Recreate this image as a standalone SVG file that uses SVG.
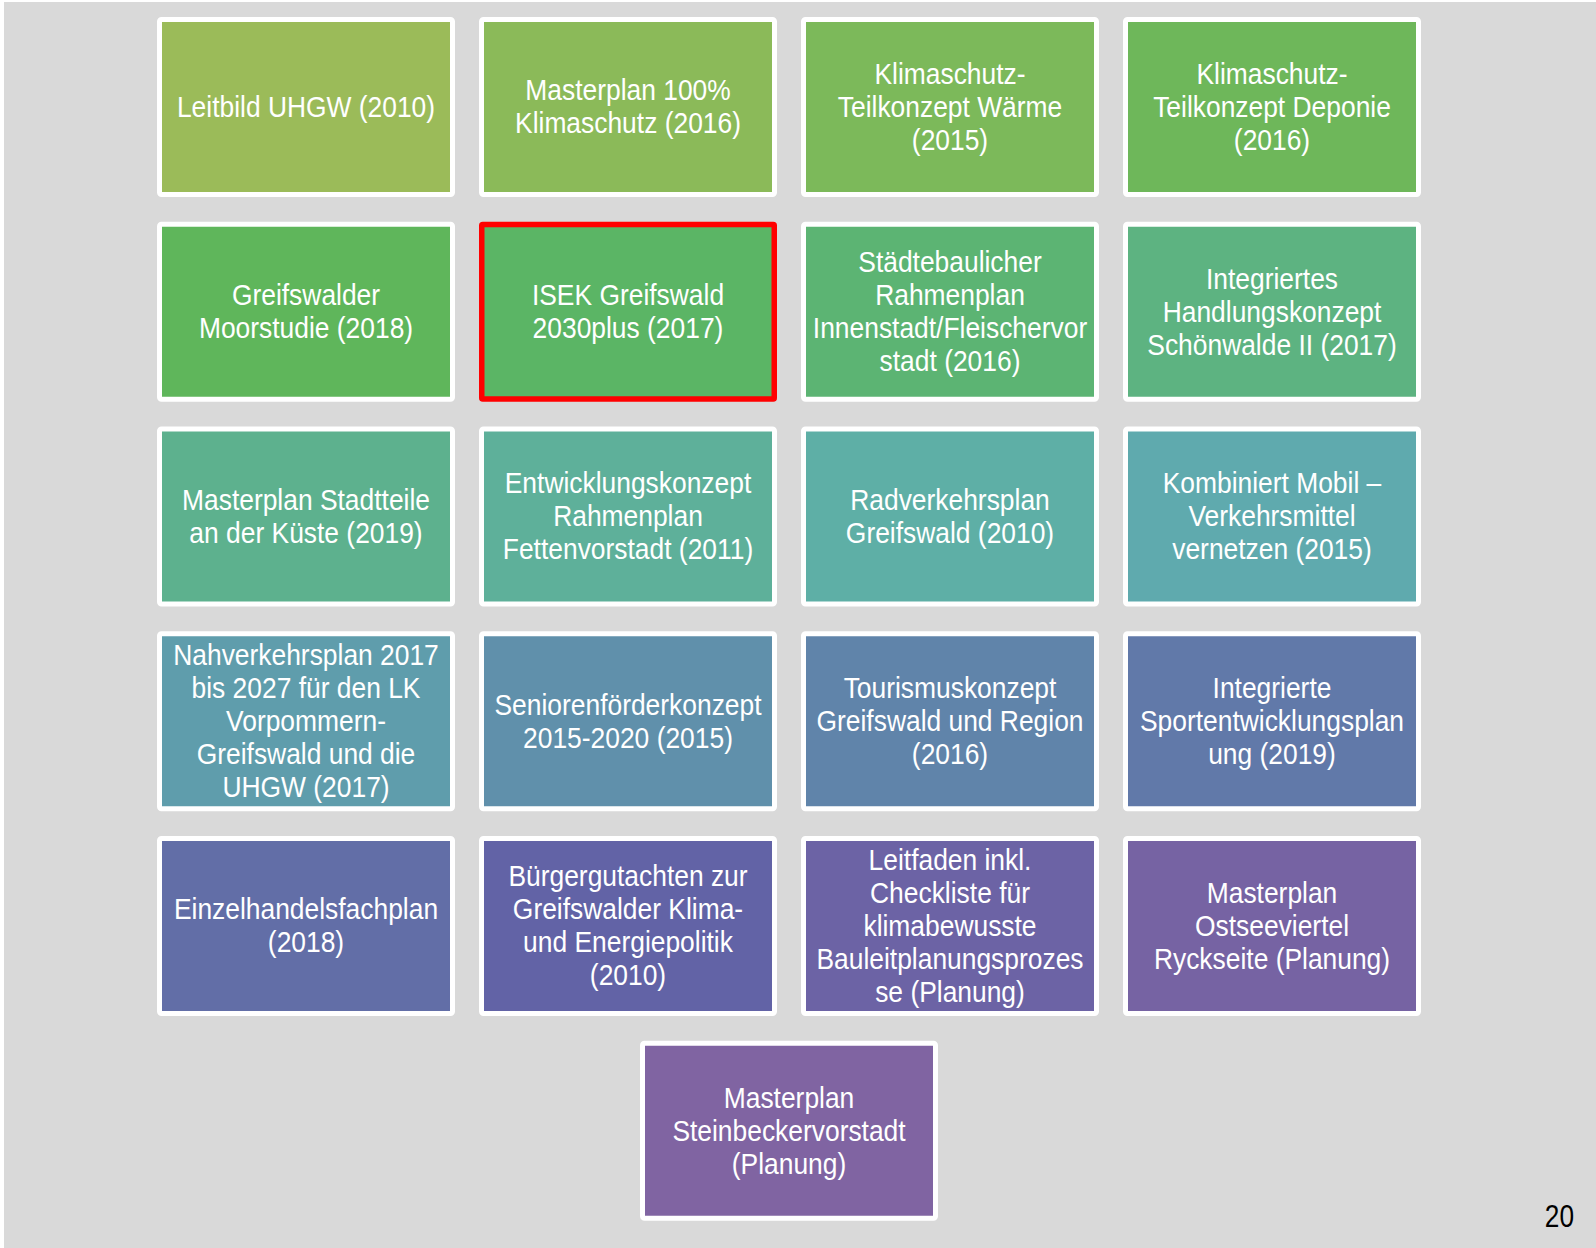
<svg xmlns="http://www.w3.org/2000/svg" width="1596" height="1248" viewBox="0 0 1596 1248">
<style>
.box{stroke:#ffffff;stroke-width:5}
.sel{stroke:#ff0000;stroke-width:5.5}
.t{font-family:"Liberation Sans",Arial,sans-serif;font-size:30px;fill:#ffffff;text-anchor:middle}
.pg{font-family:"Liberation Sans",Arial,sans-serif;font-size:32px;fill:#000000;text-anchor:end}
</style>
<rect x="0" y="0" width="1596" height="1248" fill="#ffffff"/>
<rect x="4" y="2" width="1592" height="1246" fill="#d9d9d9"/>
<g id="nodes">
<g id="n0"><rect class="box" x="159.5" y="19.5" width="293" height="175" rx="2" fill="#9BBB59"/>
<g transform="translate(306 0) scale(0.88 1)"><text class="t"><tspan x="0" y="117">Leitbild UHGW (2010)</tspan></text></g></g>
<g id="n1"><rect class="box" x="481.5" y="19.5" width="293" height="175" rx="2" fill="#8BBA59"/>
<g transform="translate(628 0) scale(0.88 1)"><text class="t"><tspan x="0" y="100.5">Masterplan 100%</tspan><tspan x="0" y="133.5">Klimaschutz (2016)</tspan></text></g></g>
<g id="n2"><rect class="box" x="803.5" y="19.5" width="293" height="175" rx="2" fill="#7CB95A"/>
<g transform="translate(950 0) scale(0.88 1)"><text class="t"><tspan x="0" y="84">Klimaschutz-</tspan><tspan x="0" y="117">Teilkonzept Wärme</tspan><tspan x="0" y="150">(2015)</tspan></text></g></g>
<g id="n3"><rect class="box" x="1125.5" y="19.5" width="293" height="175" rx="2" fill="#6EB75A"/>
<g transform="translate(1272 0) scale(0.88 1)"><text class="t"><tspan x="0" y="84">Klimaschutz-</tspan><tspan x="0" y="117">Teilkonzept Deponie</tspan><tspan x="0" y="150">(2016)</tspan></text></g></g>

<g id="n4"><rect class="box" x="159.5" y="224.25" width="293" height="175" rx="2" fill="#5FB65B"/>
<g transform="translate(306 0) scale(0.88 1)"><text class="t"><tspan x="0" y="305.25">Greifswalder</tspan><tspan x="0" y="338.25">Moorstudie (2018)</tspan></text></g></g>
<g id="n5"><rect class="sel" x="481.75" y="224.5" width="292.5" height="174.5" rx="1" fill="#5BB565"/>
<g transform="translate(628 0) scale(0.88 1)"><text class="t"><tspan x="0" y="305.25">ISEK Greifswald</tspan><tspan x="0" y="338.25">2030plus (2017)</tspan></text></g></g>
<g id="n6"><rect class="box" x="803.5" y="224.25" width="293" height="175" rx="2" fill="#5CB473"/>
<g transform="translate(950 0) scale(0.88 1)"><text class="t"><tspan x="0" y="272.25">Städtebaulicher</tspan><tspan x="0" y="305.25">Rahmenplan</tspan><tspan x="0" y="338.25">Innenstadt/Fleischervor</tspan><tspan x="0" y="371.25">stadt (2016)</tspan></text></g></g>
<g id="n7"><rect class="box" x="1125.5" y="224.25" width="293" height="175" rx="2" fill="#5DB381"/>
<g transform="translate(1272 0) scale(0.88 1)"><text class="t"><tspan x="0" y="288.75">Integriertes</tspan><tspan x="0" y="321.75">Handlungskonzept</tspan><tspan x="0" y="354.75">Schönwalde II (2017)</tspan></text></g></g>

<g id="n8"><rect class="box" x="159.5" y="429" width="293" height="175" rx="2" fill="#5DB18E"/>
<g transform="translate(306 0) scale(0.88 1)"><text class="t"><tspan x="0" y="510">Masterplan Stadtteile</tspan><tspan x="0" y="543">an der Küste (2019)</tspan></text></g></g>
<g id="n9"><rect class="box" x="481.5" y="429" width="293" height="175" rx="2" fill="#5EB09A"/>
<g transform="translate(628 0) scale(0.88 1)"><text class="t"><tspan x="0" y="493.5">Entwicklungskonzept</tspan><tspan x="0" y="526.5">Rahmenplan</tspan><tspan x="0" y="559.5">Fettenvorstadt (2011)</tspan></text></g></g>
<g id="n10"><rect class="box" x="803.5" y="429" width="293" height="175" rx="2" fill="#5EAFA6"/>
<g transform="translate(950 0) scale(0.88 1)"><text class="t"><tspan x="0" y="510">Radverkehrsplan</tspan><tspan x="0" y="543">Greifswald (2010)</tspan></text></g></g>
<g id="n11"><rect class="box" x="1125.5" y="429" width="293" height="175" rx="2" fill="#5FAAAE"/>
<g transform="translate(1272 0) scale(0.88 1)"><text class="t"><tspan x="0" y="493.5">Kombiniert Mobil –</tspan><tspan x="0" y="526.5">Verkehrsmittel</tspan><tspan x="0" y="559.5">vernetzen (2015)</tspan></text></g></g>

<g id="n12"><rect class="box" x="159.5" y="633.75" width="293" height="175" rx="2" fill="#5F9DAC"/>
<g transform="translate(306 0) scale(0.88 1)"><text class="t"><tspan x="0" y="665.25">Nahverkehrsplan 2017</tspan><tspan x="0" y="698.25">bis 2027 für den LK</tspan><tspan x="0" y="731.25">Vorpommern-</tspan><tspan x="0" y="764.25">Greifswald und die</tspan><tspan x="0" y="797.25">UHGW (2017)</tspan></text></g></g>
<g id="n13"><rect class="box" x="481.5" y="633.75" width="293" height="175" rx="2" fill="#6090AB"/>
<g transform="translate(628 0) scale(0.88 1)"><text class="t"><tspan x="0" y="714.75">Seniorenförderkonzept</tspan><tspan x="0" y="747.75">2015-2020 (2015)</tspan></text></g></g>
<g id="n14"><rect class="box" x="803.5" y="633.75" width="293" height="175" rx="2" fill="#6084AA"/>
<g transform="translate(950 0) scale(0.88 1)"><text class="t"><tspan x="0" y="698.25">Tourismuskonzept</tspan><tspan x="0" y="731.25">Greifswald und Region</tspan><tspan x="0" y="764.25">(2016)</tspan></text></g></g>
<g id="n15"><rect class="box" x="1125.5" y="633.75" width="293" height="175" rx="2" fill="#6179A9"/>
<g transform="translate(1272 0) scale(0.88 1)"><text class="t"><tspan x="0" y="698.25">Integrierte</tspan><tspan x="0" y="731.25">Sportentwicklungsplan</tspan><tspan x="0" y="764.25">ung (2019)</tspan></text></g></g>

<g id="n16"><rect class="box" x="159.5" y="838.5" width="293" height="175" rx="2" fill="#626EA7"/>
<g transform="translate(306 0) scale(0.88 1)"><text class="t"><tspan x="0" y="919.5">Einzelhandelsfachplan</tspan><tspan x="0" y="952.5">(2018)</tspan></text></g></g>
<g id="n17"><rect class="box" x="481.5" y="838.5" width="293" height="175" rx="2" fill="#6263A6"/>
<g transform="translate(628 0) scale(0.88 1)"><text class="t"><tspan x="0" y="886.5">Bürgergutachten zur</tspan><tspan x="0" y="919.5">Greifswalder Klima-</tspan><tspan x="0" y="952.5">und Energiepolitik</tspan><tspan x="0" y="985.5">(2010)</tspan></text></g></g>
<g id="n18"><rect class="box" x="803.5" y="838.5" width="293" height="175" rx="2" fill="#6C63A5"/>
<g transform="translate(950 0) scale(0.88 1)"><text class="t"><tspan x="0" y="870">Leitfaden inkl.</tspan><tspan x="0" y="903">Checkliste für</tspan><tspan x="0" y="936">klimabewusste</tspan><tspan x="0" y="969">Bauleitplanungsprozes</tspan><tspan x="0" y="1002">se (Planung)</tspan></text></g></g>
<g id="n19"><rect class="box" x="1125.5" y="838.5" width="293" height="175" rx="2" fill="#7663A3"/>
<g transform="translate(1272 0) scale(0.88 1)"><text class="t"><tspan x="0" y="903">Masterplan</tspan><tspan x="0" y="936">Ostseeviertel</tspan><tspan x="0" y="969">Ryckseite (Planung)</tspan></text></g></g>

<g id="n20"><rect class="box" x="642.5" y="1043.25" width="293" height="175" rx="2" fill="#8064A2"/>
<g transform="translate(789 0) scale(0.88 1)"><text class="t"><tspan x="0" y="1107.75">Masterplan</tspan><tspan x="0" y="1140.75">Steinbeckervorstadt</tspan><tspan x="0" y="1173.75">(Planung)</tspan></text></g></g>
</g>
<g id="connectors"></g>
<g transform="translate(1574 1227) scale(0.82 1)"><text class="pg" x="0" y="0">20</text></g>
</svg>
